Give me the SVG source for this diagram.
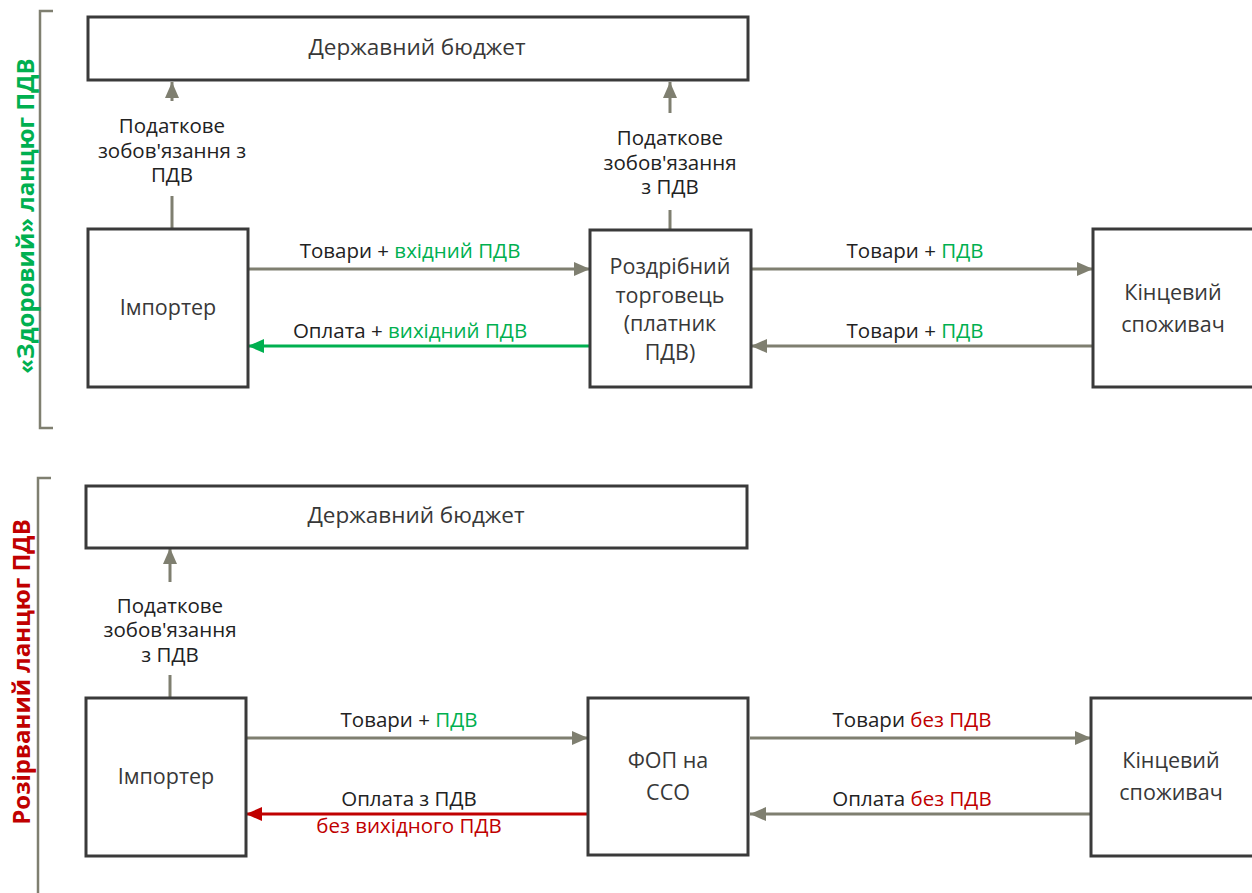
<svg xmlns="http://www.w3.org/2000/svg" width="1252" height="893" viewBox="0 0 1252 893">
<style>
.box{fill:#fff;stroke:#3a3a3a;stroke-width:3}
.t{font-family:"Open Sans","Noto Sans",sans-serif;font-size:21.5px;fill:#383838;text-anchor:middle}
.b{font-size:22.5px}
.l{font-family:"Open Sans","Noto Sans",sans-serif;font-size:20.5px;fill:#222;text-anchor:middle}
.g{fill:#00b050}
.r{fill:#c00000}
.c{stroke:#7f7f70;stroke-width:3;fill:none}
.cg{stroke:#00b050;stroke-width:3;fill:none}
.cr{stroke:#c00000;stroke-width:3;fill:none}
.br{stroke:#7f7f70;stroke-width:2.5;fill:none}
.side{font-family:"Open Sans","Noto Sans",sans-serif;font-size:24px;font-weight:bold;text-anchor:middle}
</style>
<defs>
<marker id="ag" viewBox="0 0 16 14" refX="16" refY="7" markerWidth="16" markerHeight="14" markerUnits="userSpaceOnUse" orient="auto"><path d="M0,0 L16,7 L0,14 z" fill="#7f7f70"/></marker>
<marker id="agr" viewBox="0 0 16 14" refX="16" refY="7" markerWidth="16" markerHeight="14" markerUnits="userSpaceOnUse" orient="auto"><path d="M0,0 L16,7 L0,14 z" fill="#00b050"/></marker>
<marker id="ar" viewBox="0 0 16 14" refX="16" refY="7" markerWidth="16" markerHeight="14" markerUnits="userSpaceOnUse" orient="auto"><path d="M0,0 L16,7 L0,14 z" fill="#c00000"/></marker>
</defs>

<g id="section-top">
<path class="br" d="M53,11 H40 V428 H53"/>
<text class="side g" transform="translate(34,216) rotate(-90)">«Здоровий» ланцюг ПДВ</text>
</g>
<g id="section-bottom">
<path class="br" d="M51,478 H38 V893"/>
<text class="side r" transform="translate(30,672) rotate(-90)">Розірваний ланцюг ПДВ</text>
</g>

<g id="connectors">
<line class="c" x1="172" y1="101" x2="172" y2="82" marker-end="url(#ag)"/>
<line class="c" x1="172" y1="196" x2="172" y2="229"/>
<line class="c" x1="670" y1="113" x2="670" y2="82" marker-end="url(#ag)"/>
<line class="c" x1="670" y1="210" x2="670" y2="230"/>
<line class="c" x1="248" y1="269" x2="590" y2="269" marker-end="url(#ag)"/>
<line class="cg" x1="590" y1="346" x2="248" y2="346" marker-end="url(#agr)"/>
<line class="c" x1="751" y1="269" x2="1093" y2="269" marker-end="url(#ag)"/>
<line class="c" x1="1093" y1="346" x2="751" y2="346" marker-end="url(#ag)"/>
<line class="c" x1="170" y1="582" x2="170" y2="548" marker-end="url(#ag)"/>
<line class="c" x1="170" y1="675" x2="170" y2="698"/>
<line class="c" x1="246" y1="738" x2="588" y2="738" marker-end="url(#ag)"/>
<line class="cr" x1="588" y1="814" x2="246" y2="814" marker-end="url(#ar)"/>
<line class="c" x1="750" y1="738" x2="1091" y2="738" marker-end="url(#ag)"/>
<line class="c" x1="1091" y1="814" x2="750" y2="814" marker-end="url(#ag)"/>

<text class="l" x="172" y="133">Податкове</text>
<text class="l" x="172" y="158">зобов'язання з</text>
<text class="l" x="172" y="182">ПДВ</text>
<text class="l" x="670" y="145">Податкове</text>
<text class="l" x="670" y="170">зобов'язання</text>
<text class="l" x="670" y="194">з ПДВ</text>
<text class="l" x="410" y="258">Товари + <tspan class="g">вхідний ПДВ</tspan></text>
<text class="l" x="410" y="338">Оплата + <tspan class="g">вихідний ПДВ</tspan></text>
<text class="l" x="915" y="258">Товари + <tspan class="g">ПДВ</tspan></text>
<text class="l" x="915" y="338">Товари + <tspan class="g">ПДВ</tspan></text>

<text class="l" x="170" y="613">Податкове</text>
<text class="l" x="170" y="637">зобов'язання</text>
<text class="l" x="170" y="662">з ПДВ</text>
<text class="l" x="409" y="727">Товари + <tspan class="g">ПДВ</tspan></text>
<text class="l" x="409" y="806">Оплата з ПДВ</text>
<text class="l r" x="409" y="833">без вихідного ПДВ</text>
<text class="l" x="912" y="727">Товари <tspan class="r">без ПДВ</tspan></text>
<text class="l" x="912" y="806">Оплата <tspan class="r">без ПДВ</tspan></text>
</g>

<g id="budget-top"><rect class="box" x="88" y="17" width="660" height="63"/><text class="t b" x="417" y="55">Державний бюджет</text></g>
<g id="importer-top"><rect class="box" x="88" y="229" width="160" height="158"/><text class="t" x="168" y="315">Імпортер</text></g>
<g id="retailer"><rect class="box" x="590" y="230" width="161" height="157"/>
<text class="t" x="670" y="274">Роздрібний</text><text class="t" x="670" y="303">торговець</text><text class="t" x="670" y="331">(платник</text><text class="t" x="670" y="360">ПДВ)</text></g>
<g id="consumer-top"><rect class="box" x="1093" y="229" width="170" height="158"/><text class="t" x="1173" y="300">Кінцевий</text><text class="t" x="1173" y="332">споживач</text></g>

<g id="budget-bottom"><rect class="box" x="86" y="486" width="661" height="62"/><text class="t b" x="416" y="523">Державний бюджет</text></g>
<g id="importer-bottom"><rect class="box" x="86" y="698" width="160" height="158"/><text class="t" x="166" y="784">Імпортер</text></g>
<g id="fop"><rect class="box" x="588" y="698" width="160" height="157"/><text class="t" x="668" y="768">ФОП на</text><text class="t" x="668" y="800">ССО</text></g>
<g id="consumer-bottom"><rect class="box" x="1091" y="698" width="172" height="158"/><text class="t" x="1171" y="768">Кінцевий</text><text class="t" x="1171" y="800">споживач</text></g>
</svg>
